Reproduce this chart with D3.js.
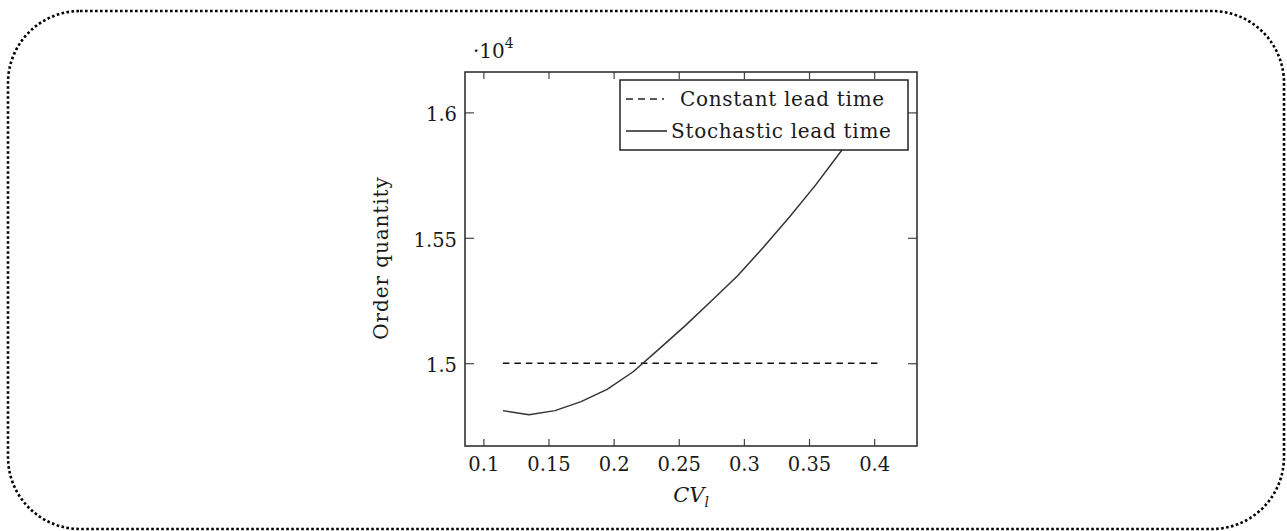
<!DOCTYPE html>
<html>
<head>
<meta charset="utf-8">
<script src="https://cdn.jsdelivr.net/npm/d3@7"></script>
<style>
	html, body { margin: 0; padding: 0; background: #fff; }
	svg { display: block; }
	text { font-family: "DejaVu Serif", serif; fill: #1a1a1a; }
</style>
</head>
<body>
<div id="chart"></div>
<script>
// coefficient of variation of the lead time (x)
const cvValues = [0.115, 0.135, 0.155, 0.175, 0.195, 0.215, 0.235, 0.255,
	0.275, 0.295, 0.315, 0.335, 0.355, 0.375, 0.395, 0.405]
// order quantity, in units of 10^4
const constantQty = [1.5, 1.5, 1.5, 1.5, 1.5, 1.5, 1.5, 1.5,
	1.5, 1.5, 1.5, 1.5, 1.5, 1.5, 1.5, 1.5]
const stochasticQty = [1.4811, 1.4795, 1.4811, 1.4847, 1.4896, 1.4966, 1.5057, 1.515,
	1.5248, 1.5348, 1.5462, 1.5583, 1.571, 1.5848, 1.5995, 1.6072]

const xTicks = [0.1, 0.15, 0.2, 0.25, 0.3, 0.35, 0.4]
const yTicks = [1.5, 1.55, 1.6]
const legendLabels = ["Constant lead time", "Stochastic lead time"]

const W = 1287
const H = 531
const plot = { left: 465, right: 917, top: 72, bottom: 446 }

const svg = d3.select("#chart")
	.append("svg")
	.attr("width", W)
	.attr("height", H)

// dotted rounded outer frame
svg.append("rect")
	.attr("x", 8)
	.attr("y", 11)
	.attr("width", 1276)
	.attr("height", 518)
	.attr("rx", 72)
	.attr("fill", "none")
	.attr("stroke", "#000")
	.attr("stroke-width", 2.6)
	.attr("stroke-dasharray", "2.6,2.4")

const x = d3.scaleLinear()
	.domain([0.0859, 0.4329])
	.range([plot.left, plot.right])

const y = d3.scaleLinear()
	.domain([1.467, 1.6161])
	.range([plot.bottom, plot.top])

const fmt = (d) => String(d)

// axes (ticks pointing inward, mirrored on top/right)
const gx = svg.append("g")
	.attr("transform", `translate(0,${plot.bottom})`)
	.call(d3.axisBottom(x).tickValues(xTicks).tickFormat(fmt).tickSize(-7).tickPadding(11))
gx.selectAll("text").style("font-size", "19.5px")

svg.append("g")
	.attr("transform", `translate(0,${plot.top})`)
	.call(d3.axisTop(x).tickValues(xTicks).tickFormat("").tickSize(-7))

const gy = svg.append("g")
	.attr("transform", `translate(${plot.left},0)`)
	.call(d3.axisLeft(y).tickValues(yTicks).tickFormat(fmt).tickSize(-9).tickPadding(8))
gy.selectAll("text").style("font-size", "19.5px").attr("dy", "0.42em")

svg.append("g")
	.attr("transform", `translate(${plot.right},0)`)
	.call(d3.axisRight(y).tickValues(yTicks).tickFormat("").tickSize(-9))

svg.selectAll(".domain").remove()
svg.selectAll(".tick line")
	.attr("stroke", "#444")
	.attr("stroke-width", 1.2)

// lines
const line = d3.line()
	.x((d) => x(d[0]))
	.y((d) => y(d[1]))

svg.append("path")
	.datum(cvValues.map((c, i) => [c, constantQty[i]]))
	.attr("fill", "none")
	.attr("stroke", "#111")
	.attr("stroke-width", 1.5)
	.attr("stroke-dasharray", "6.5,5")
	.attr("d", line)

svg.append("path")
	.datum(cvValues.map((c, i) => [c, stochasticQty[i]]))
	.attr("fill", "none")
	.attr("stroke", "#333")
	.attr("stroke-width", 1.5)
	.attr("stroke-linejoin", "round")
	.attr("d", line)

// plot frame
svg.append("rect")
	.attr("x", plot.left)
	.attr("y", plot.top)
	.attr("width", plot.right - plot.left)
	.attr("height", plot.bottom - plot.top)
	.attr("fill", "none")
	.attr("stroke", "#333")
	.attr("stroke-width", 1.6)

// multiplier label
const mult = svg.append("text")
	.attr("x", 473)
	.attr("y", 58)
	.style("font-size", "20px")
mult.append("tspan").text("\u00b710")
mult.append("tspan")
	.attr("dy", -10)
	.style("font-size", "14px")
	.text("4")

// axis titles
svg.append("text")
	.attr("transform", "translate(388,258) rotate(-90)")
	.attr("text-anchor", "middle")
	.style("font-size", "20px")
	.style("letter-spacing", "0.9px")
	.text("Order quantity")

const xt = svg.append("text")
	.attr("x", 691)
	.attr("y", 502)
	.attr("text-anchor", "middle")
	.style("font-size", "21px")
	.style("font-style", "italic")
xt.append("tspan").text("CV")
xt.append("tspan")
	.attr("dy", 5)
	.style("font-size", "14px")
	.text("l")

// legend
const legend = svg.append("g").attr("transform", "translate(620,80)")
legend.append("rect")
	.attr("width", 288)
	.attr("height", 70)
	.attr("fill", "#fff")
	.attr("stroke", "#222")
	.attr("stroke-width", 1.5)

const legendRows = [
	{ label: legendLabels[0], dash: "7,5", x2: 44, tx: 60 },
	{ label: legendLabels[1], dash: null, x2: 47, tx: 51 },
]

legendRows.forEach((d, i) => {
	const row = legend.append("g").attr("transform", `translate(0,${19 + i * 32})`)
	row.append("line")
		.attr("x1", 6)
		.attr("x2", d.x2)
		.attr("stroke", "#222")
		.attr("stroke-width", 1.4)
		.attr("stroke-dasharray", d.dash)
	row.append("text")
		.attr("x", d.tx)
		.attr("y", 7)
		.style("font-size", "20px")
		.style("letter-spacing", "0.7px")
		.text(d.label)
})
</script>
</body>
</html>
